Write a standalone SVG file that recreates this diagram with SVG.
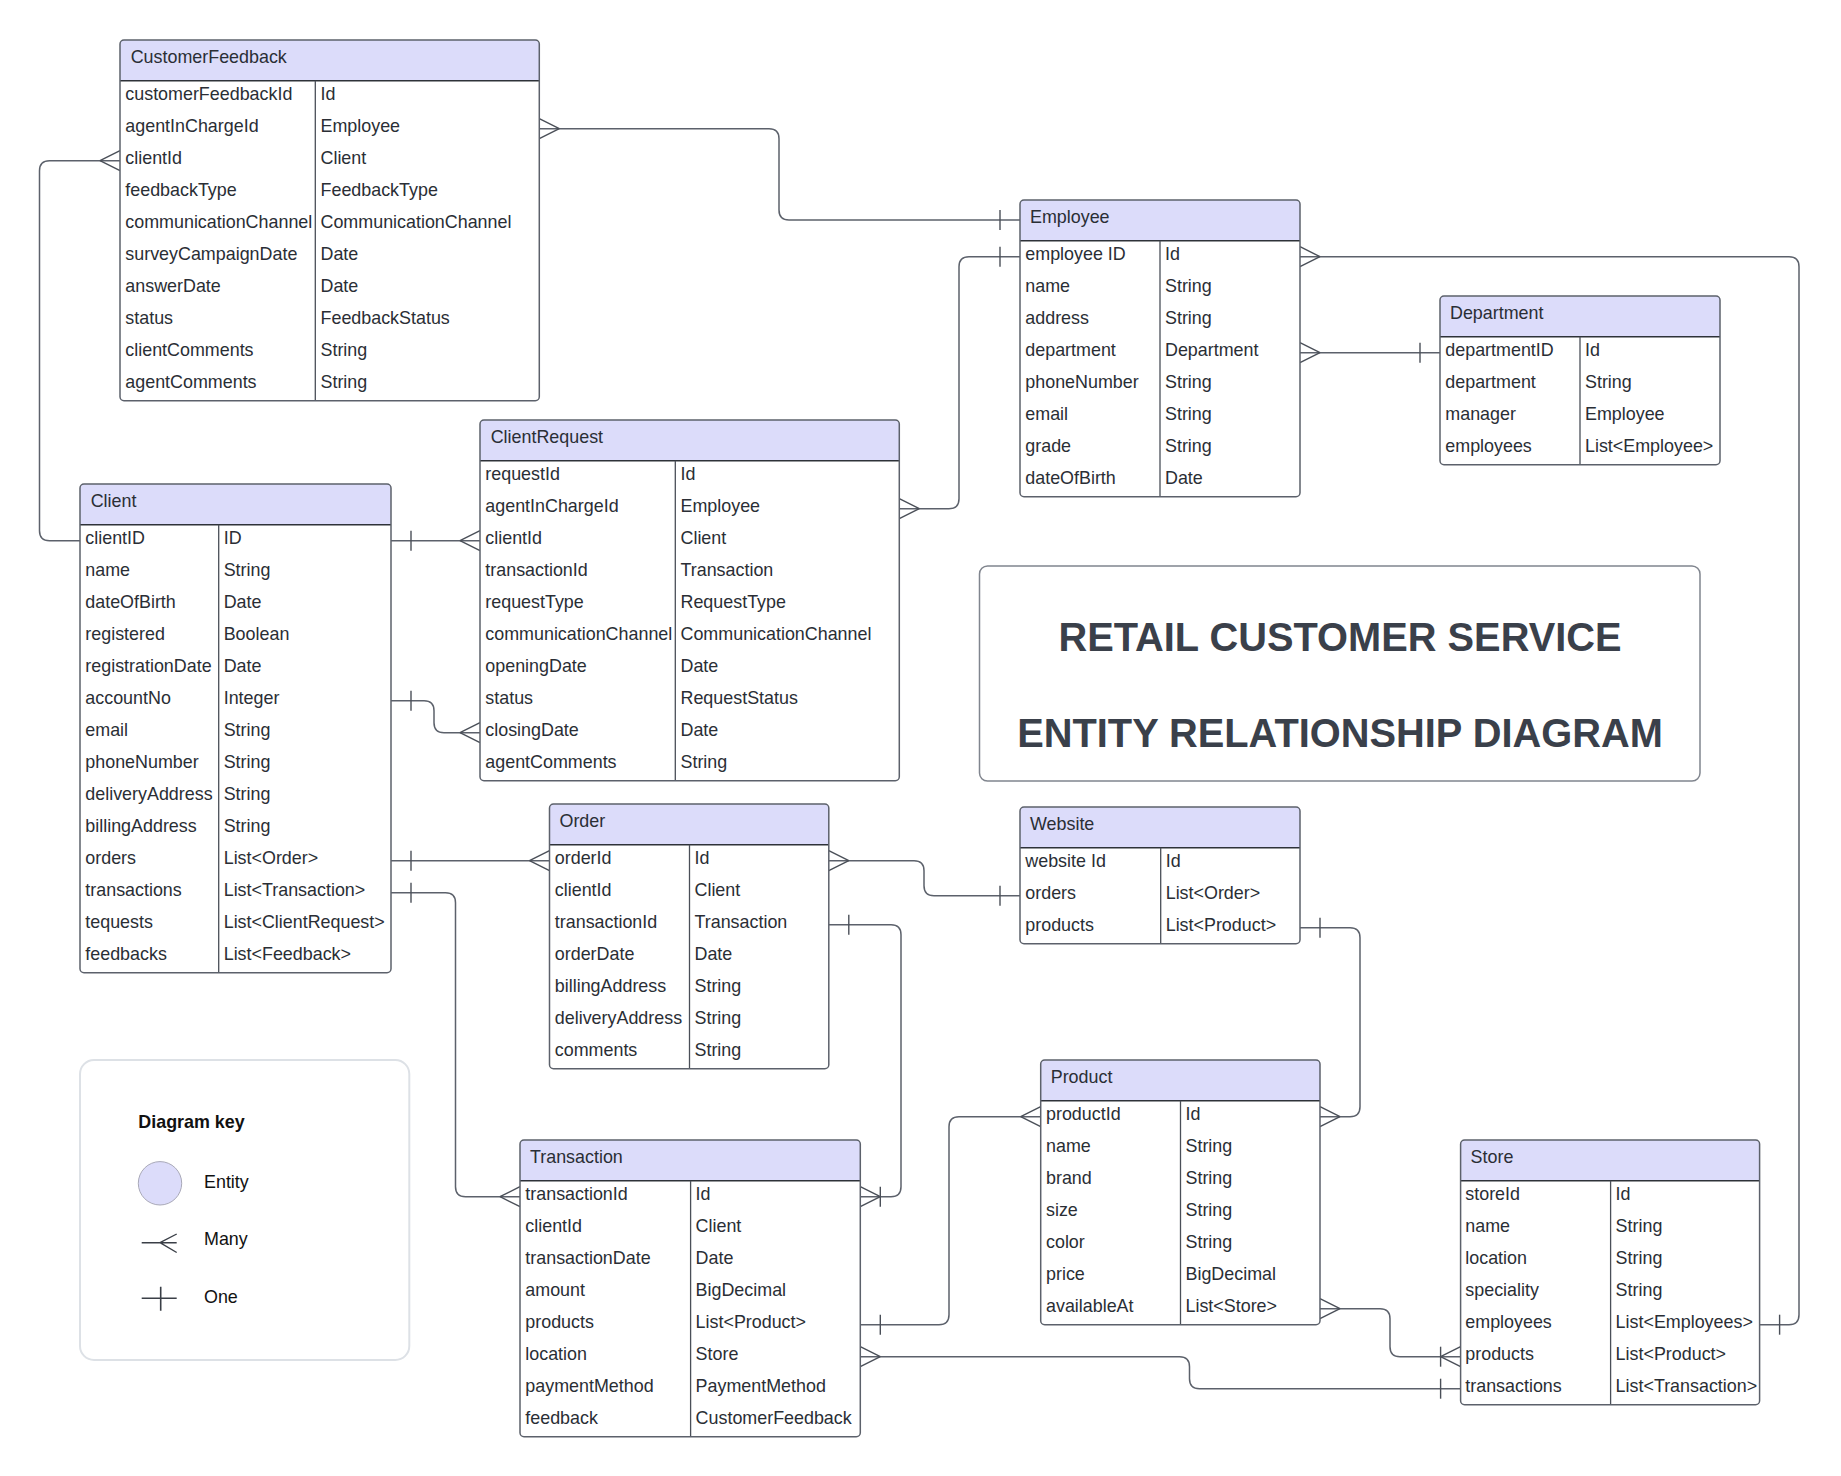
<svg xmlns="http://www.w3.org/2000/svg" xmlns:xlink="http://www.w3.org/1999/xlink" width="1841" height="1476" viewBox="0 0 1841 1476">
<style>
.body{fill:#ffffff;stroke:none}
.hdr{fill:#dcdcfa;stroke:none}
.frame{fill:none;stroke:#5c616b;stroke-width:1.5}
.hline{stroke:#2e3239;stroke-width:1.6}
.div{stroke:#4a4f58;stroke-width:1.3}
.h,.t{font-family:"Liberation Sans",Arial,sans-serif;font-size:17.9px;fill:#2a2e35}
.conn path,.conn line{fill:none;stroke:#5c616b;stroke-width:1.5}
.mk{fill:none;stroke:#4a4f58;stroke-width:1.4}
.title{font-family:"Liberation Sans",Arial,sans-serif;font-weight:bold;font-size:39.8px;fill:#3a404a;text-anchor:middle}
.lg{font-family:"Liberation Sans",Arial,sans-serif;font-size:17.9px;fill:#111111}
</style>
<defs>
<path id="crow" class="mk" d="M-20,0 L0,-10 M-20,0 L0,10"/>
<path id="tick" class="mk" d="M-20,-10 V10"/>
</defs>
<rect width="1841" height="1476" fill="#ffffff"/>

<g id="title">
<rect x="979.5" y="566" width="720.5" height="215" rx="8" fill="#ffffff" stroke="#80858e" stroke-width="1.5"/>
<text class="title" x="1340" y="650.5">RETAIL CUSTOMER SERVICE</text>
<text class="title" x="1340" y="746.7">ENTITY RELATIONSHIP DIAGRAM</text>
</g>

<g id="legend">
<rect x="80" y="1060" width="329.3" height="300" rx="14" fill="#ffffff" stroke="#dde1e6" stroke-width="2"/>
<text class="lg" x="138.3" y="1127.5" font-weight="bold">Diagram key</text>
<circle cx="160" cy="1183.3" r="21.7" fill="#dcdcfa" stroke="#a9a9b8" stroke-width="1"/>
<text class="lg" x="204" y="1187.5">Entity</text>
<path d="M141.7,1242.7 H176.7 M160,1242.7 L176.7,1234 M160,1242.7 L176.7,1252.5" fill="none" stroke="#3a3f47" stroke-width="1.4"/>
<text class="lg" x="204" y="1245">Many</text>
<path d="M141.7,1298.3 H176.7 M160.7,1286.7 V1310.7" fill="none" stroke="#3a3f47" stroke-width="1.6"/>
<text class="lg" x="204" y="1303">One</text>
</g>

<g id="connectors" class="conn">
<path d="M539.3,128.7 H769 Q779,128.7 779,138.7 V210 Q779,220 789,220 H1020"/>
<use xlink:href="#crow" transform="translate(539.3,128.7) scale(-1,1)"/>
<use xlink:href="#tick" transform="translate(1020,220)"/>
<path d="M120,160.7 H49.5 Q39.5,160.7 39.5,170.7 V530.7 Q39.5,540.7 49.5,540.7 H80"/>
<use xlink:href="#crow" transform="translate(120,160.7)"/>
<use xlink:href="#tick" transform="translate(80,540.7) scale(-1,1)"/>
<path d="M391,540.7 H480"/>
<use xlink:href="#tick" transform="translate(391,540.7) scale(-1,1)"/>
<use xlink:href="#crow" transform="translate(480,540.7)"/>
<path d="M391,700.7 H424 Q434,700.7 434,710.7 V722.7 Q434,732.7 444,732.7 H480"/>
<use xlink:href="#tick" transform="translate(391,700.7) scale(-1,1)"/>
<use xlink:href="#crow" transform="translate(480,732.7)"/>
<path d="M391,860.7 H549.5"/>
<use xlink:href="#tick" transform="translate(391,860.7) scale(-1,1)"/>
<use xlink:href="#crow" transform="translate(549.5,860.7)"/>
<path d="M391,892.7 H445.5 Q455.5,892.7 455.5,902.7 V1186.7 Q455.5,1196.7 465.5,1196.7 H520"/>
<use xlink:href="#tick" transform="translate(391,892.7) scale(-1,1)"/>
<use xlink:href="#crow" transform="translate(520,1196.7)"/>
<path d="M899.3,508.7 H949 Q959,508.7 959,498.7 V266.7 Q959,256.7 969,256.7 H1020"/>
<use xlink:href="#crow" transform="translate(899.3,508.7) scale(-1,1)"/>
<use xlink:href="#tick" transform="translate(1020,256.7)"/>
<path d="M1300,256.7 H1789 Q1799,256.7 1799,266.7 V1314.7 Q1799,1324.7 1789,1324.7 H1759.6"/>
<use xlink:href="#crow" transform="translate(1300,256.7) scale(-1,1)"/>
<use xlink:href="#tick" transform="translate(1759.6,1324.7) scale(-1,1)"/>
<path d="M1300,352.7 H1440"/>
<use xlink:href="#crow" transform="translate(1300,352.7) scale(-1,1)"/>
<use xlink:href="#tick" transform="translate(1440,352.7)"/>
<path d="M828.8,860.7 H914 Q924,860.7 924,870.7 V885.7 Q924,895.7 934,895.7 H1020"/>
<use xlink:href="#crow" transform="translate(828.8,860.7) scale(-1,1)"/>
<use xlink:href="#tick" transform="translate(1020,895.7)"/>
<path d="M828.8,924.7 H891 Q901,924.7 901,934.7 V1186.7 Q901,1196.7 891,1196.7 H860.3"/>
<use xlink:href="#tick" transform="translate(828.8,924.7) scale(-1,1)"/>
<use xlink:href="#crow" transform="translate(860.3,1196.7) scale(-1,1)"/>
<use xlink:href="#tick" transform="translate(860.3,1196.7) scale(-1,1)"/>
<path d="M1300,927.7 H1350 Q1360,927.7 1360,937.7 V1106.7 Q1360,1116.7 1350,1116.7 H1320"/>
<use xlink:href="#tick" transform="translate(1300,927.7) scale(-1,1)"/>
<use xlink:href="#crow" transform="translate(1320,1116.7) scale(-1,1)"/>
<path d="M860.3,1324.7 H939 Q949,1324.7 949,1314.7 V1126.7 Q949,1116.7 959,1116.7 H1040.7"/>
<use xlink:href="#tick" transform="translate(860.3,1324.7) scale(-1,1)"/>
<use xlink:href="#crow" transform="translate(1040.7,1116.7)"/>
<path d="M860.3,1356.7 H1179.5 Q1189.5,1356.7 1189.5,1366.7 V1378.7 Q1189.5,1388.7 1199.5,1388.7 H1460.6"/>
<use xlink:href="#crow" transform="translate(860.3,1356.7) scale(-1,1)"/>
<use xlink:href="#tick" transform="translate(1460.6,1388.7)"/>
<path d="M1320,1308.7 H1380 Q1390,1308.7 1390,1318.7 V1346.7 Q1390,1356.7 1400,1356.7 H1460.6"/>
<use xlink:href="#crow" transform="translate(1320,1308.7) scale(-1,1)"/>
<use xlink:href="#crow" transform="translate(1460.6,1356.7)"/>
<use xlink:href="#tick" transform="translate(1460.6,1356.7)"/>
</g>

<g id="customerFeedback" transform="translate(120,40)">
<rect class="body" width="419.3" height="360.7" rx="4"/>
<path class="hdr" d="M0,40.7 V4 Q0,0 4,0 H415.3 Q419.3,0 419.3,4 V40.7 Z"/>
<line class="hline" x1="0" y1="40.7" x2="419.3" y2="40.7"/>
<line class="div" x1="195.3" y1="40.7" x2="195.3" y2="360.7"/>
<rect class="frame" width="419.3" height="360.7" rx="4"/>
<text class="h" x="10.7" y="23.3">CustomerFeedback</text>
<text class="t" x="5.3" y="60">customerFeedbackId</text><text class="t" x="200.5" y="60">Id</text>
<text class="t" x="5.3" y="92">agentInChargeId</text><text class="t" x="200.5" y="92">Employee</text>
<text class="t" x="5.3" y="124">clientId</text><text class="t" x="200.5" y="124">Client</text>
<text class="t" x="5.3" y="156">feedbackType</text><text class="t" x="200.5" y="156">FeedbackType</text>
<text class="t" x="5.3" y="188">communicationChannel</text><text class="t" x="200.5" y="188">CommunicationChannel</text>
<text class="t" x="5.3" y="220">surveyCampaignDate</text><text class="t" x="200.5" y="220">Date</text>
<text class="t" x="5.3" y="252">answerDate</text><text class="t" x="200.5" y="252">Date</text>
<text class="t" x="5.3" y="284">status</text><text class="t" x="200.5" y="284">FeedbackStatus</text>
<text class="t" x="5.3" y="316">clientComments</text><text class="t" x="200.5" y="316">String</text>
<text class="t" x="5.3" y="348">agentComments</text><text class="t" x="200.5" y="348">String</text>
</g>

<g id="employee" transform="translate(1020,200)">
<rect class="body" width="280" height="296.7" rx="4"/>
<path class="hdr" d="M0,40.7 V4 Q0,0 4,0 H276 Q280,0 280,4 V40.7 Z"/>
<line class="hline" x1="0" y1="40.7" x2="280" y2="40.7"/>
<line class="div" x1="140" y1="40.7" x2="140" y2="296.7"/>
<rect class="frame" width="280" height="296.7" rx="4"/>
<text class="h" x="10" y="23.3">Employee</text>
<text class="t" x="5.3" y="60">employee ID</text><text class="t" x="145" y="60">Id</text>
<text class="t" x="5.3" y="92">name</text><text class="t" x="145" y="92">String</text>
<text class="t" x="5.3" y="124">address</text><text class="t" x="145" y="124">String</text>
<text class="t" x="5.3" y="156">department</text><text class="t" x="145" y="156">Department</text>
<text class="t" x="5.3" y="188">phoneNumber</text><text class="t" x="145" y="188">String</text>
<text class="t" x="5.3" y="220">email</text><text class="t" x="145" y="220">String</text>
<text class="t" x="5.3" y="252">grade</text><text class="t" x="145" y="252">String</text>
<text class="t" x="5.3" y="284">dateOfBirth</text><text class="t" x="145" y="284">Date</text>
</g>

<g id="department" transform="translate(1440,296)">
<rect class="body" width="280" height="168.7" rx="4"/>
<path class="hdr" d="M0,40.7 V4 Q0,0 4,0 H276 Q280,0 280,4 V40.7 Z"/>
<line class="hline" x1="0" y1="40.7" x2="280" y2="40.7"/>
<line class="div" x1="140" y1="40.7" x2="140" y2="168.7"/>
<rect class="frame" width="280" height="168.7" rx="4"/>
<text class="h" x="10" y="23.3">Department</text>
<text class="t" x="5.3" y="60">departmentID</text><text class="t" x="145" y="60">Id</text>
<text class="t" x="5.3" y="92">department</text><text class="t" x="145" y="92">String</text>
<text class="t" x="5.3" y="124">manager</text><text class="t" x="145" y="124">Employee</text>
<text class="t" x="5.3" y="156">employees</text><text class="t" x="145" y="156">List&lt;Employee&gt;</text>
</g>

<g id="clientRequest" transform="translate(480,420)">
<rect class="body" width="419.3" height="360.7" rx="4"/>
<path class="hdr" d="M0,40.7 V4 Q0,0 4,0 H415.3 Q419.3,0 419.3,4 V40.7 Z"/>
<line class="hline" x1="0" y1="40.7" x2="419.3" y2="40.7"/>
<line class="div" x1="195.3" y1="40.7" x2="195.3" y2="360.7"/>
<rect class="frame" width="419.3" height="360.7" rx="4"/>
<text class="h" x="10.7" y="23.3">ClientRequest</text>
<text class="t" x="5.3" y="60">requestId</text><text class="t" x="200.5" y="60">Id</text>
<text class="t" x="5.3" y="92">agentInChargeId</text><text class="t" x="200.5" y="92">Employee</text>
<text class="t" x="5.3" y="124">clientId</text><text class="t" x="200.5" y="124">Client</text>
<text class="t" x="5.3" y="156">transactionId</text><text class="t" x="200.5" y="156">Transaction</text>
<text class="t" x="5.3" y="188">requestType</text><text class="t" x="200.5" y="188">RequestType</text>
<text class="t" x="5.3" y="220">communicationChannel</text><text class="t" x="200.5" y="220">CommunicationChannel</text>
<text class="t" x="5.3" y="252">openingDate</text><text class="t" x="200.5" y="252">Date</text>
<text class="t" x="5.3" y="284">status</text><text class="t" x="200.5" y="284">RequestStatus</text>
<text class="t" x="5.3" y="316">closingDate</text><text class="t" x="200.5" y="316">Date</text>
<text class="t" x="5.3" y="348">agentComments</text><text class="t" x="200.5" y="348">String</text>
</g>

<g id="client" transform="translate(80,484)">
<rect class="body" width="311" height="488.7" rx="4"/>
<path class="hdr" d="M0,40.7 V4 Q0,0 4,0 H307 Q311,0 311,4 V40.7 Z"/>
<line class="hline" x1="0" y1="40.7" x2="311" y2="40.7"/>
<line class="div" x1="138.7" y1="40.7" x2="138.7" y2="488.7"/>
<rect class="frame" width="311" height="488.7" rx="4"/>
<text class="h" x="10.7" y="23.3">Client</text>
<text class="t" x="5.3" y="60">clientID</text><text class="t" x="143.7" y="60">ID</text>
<text class="t" x="5.3" y="92">name</text><text class="t" x="143.7" y="92">String</text>
<text class="t" x="5.3" y="124">dateOfBirth</text><text class="t" x="143.7" y="124">Date</text>
<text class="t" x="5.3" y="156">registered</text><text class="t" x="143.7" y="156">Boolean</text>
<text class="t" x="5.3" y="188">registrationDate</text><text class="t" x="143.7" y="188">Date</text>
<text class="t" x="5.3" y="220">accountNo</text><text class="t" x="143.7" y="220">Integer</text>
<text class="t" x="5.3" y="252">email</text><text class="t" x="143.7" y="252">String</text>
<text class="t" x="5.3" y="284">phoneNumber</text><text class="t" x="143.7" y="284">String</text>
<text class="t" x="5.3" y="316">deliveryAddress</text><text class="t" x="143.7" y="316">String</text>
<text class="t" x="5.3" y="348">billingAddress</text><text class="t" x="143.7" y="348">String</text>
<text class="t" x="5.3" y="380">orders</text><text class="t" x="143.7" y="380">List&lt;Order&gt;</text>
<text class="t" x="5.3" y="412">transactions</text><text class="t" x="143.7" y="412">List&lt;Transaction&gt;</text>
<text class="t" x="5.3" y="444">tequests</text><text class="t" x="143.7" y="444" textLength="161" lengthAdjust="spacingAndGlyphs">List&lt;ClientRequest&gt;</text>
<text class="t" x="5.3" y="476">feedbacks</text><text class="t" x="143.7" y="476">List&lt;Feedback&gt;</text>
</g>

<g id="order" transform="translate(549.5,804)">
<rect class="body" width="279.3" height="264.7" rx="4"/>
<path class="hdr" d="M0,40.7 V4 Q0,0 4,0 H275.3 Q279.3,0 279.3,4 V40.7 Z"/>
<line class="hline" x1="0" y1="40.7" x2="279.3" y2="40.7"/>
<line class="div" x1="140" y1="40.7" x2="140" y2="264.7"/>
<rect class="frame" width="279.3" height="264.7" rx="4"/>
<text class="h" x="10" y="23.3">Order</text>
<text class="t" x="5.3" y="60">orderId</text><text class="t" x="145" y="60">Id</text>
<text class="t" x="5.3" y="92">clientId</text><text class="t" x="145" y="92">Client</text>
<text class="t" x="5.3" y="124">transactionId</text><text class="t" x="145" y="124">Transaction</text>
<text class="t" x="5.3" y="156">orderDate</text><text class="t" x="145" y="156">Date</text>
<text class="t" x="5.3" y="188">billingAddress</text><text class="t" x="145" y="188">String</text>
<text class="t" x="5.3" y="220">deliveryAddress</text><text class="t" x="145" y="220">String</text>
<text class="t" x="5.3" y="252">comments</text><text class="t" x="145" y="252">String</text>
</g>

<g id="website" transform="translate(1020,807)">
<rect class="body" width="280" height="136.7" rx="4"/>
<path class="hdr" d="M0,40.7 V4 Q0,0 4,0 H276 Q280,0 280,4 V40.7 Z"/>
<line class="hline" x1="0" y1="40.7" x2="280" y2="40.7"/>
<line class="div" x1="140.7" y1="40.7" x2="140.7" y2="136.7"/>
<rect class="frame" width="280" height="136.7" rx="4"/>
<text class="h" x="10" y="23.3">Website</text>
<text class="t" x="5.3" y="60">website Id</text><text class="t" x="145.7" y="60">Id</text>
<text class="t" x="5.3" y="92">orders</text><text class="t" x="145.7" y="92">List&lt;Order&gt;</text>
<text class="t" x="5.3" y="124">products</text><text class="t" x="145.7" y="124">List&lt;Product&gt;</text>
</g>

<g id="product" transform="translate(1040.7,1060)">
<rect class="body" width="279.3" height="264.7" rx="4"/>
<path class="hdr" d="M0,40.7 V4 Q0,0 4,0 H275.3 Q279.3,0 279.3,4 V40.7 Z"/>
<line class="hline" x1="0" y1="40.7" x2="279.3" y2="40.7"/>
<line class="div" x1="139.8" y1="40.7" x2="139.8" y2="264.7"/>
<rect class="frame" width="279.3" height="264.7" rx="4"/>
<text class="h" x="10" y="23.3">Product</text>
<text class="t" x="5.3" y="60">productId</text><text class="t" x="144.8" y="60">Id</text>
<text class="t" x="5.3" y="92">name</text><text class="t" x="144.8" y="92">String</text>
<text class="t" x="5.3" y="124">brand</text><text class="t" x="144.8" y="124">String</text>
<text class="t" x="5.3" y="156">size</text><text class="t" x="144.8" y="156">String</text>
<text class="t" x="5.3" y="188">color</text><text class="t" x="144.8" y="188">String</text>
<text class="t" x="5.3" y="220">price</text><text class="t" x="144.8" y="220">BigDecimal</text>
<text class="t" x="5.3" y="252">availableAt</text><text class="t" x="144.8" y="252">List&lt;Store&gt;</text>
</g>

<g id="transaction" transform="translate(520,1140)">
<rect class="body" width="340.3" height="296.7" rx="4"/>
<path class="hdr" d="M0,40.7 V4 Q0,0 4,0 H336.3 Q340.3,0 340.3,4 V40.7 Z"/>
<line class="hline" x1="0" y1="40.7" x2="340.3" y2="40.7"/>
<line class="div" x1="170.6" y1="40.7" x2="170.6" y2="296.7"/>
<rect class="frame" width="340.3" height="296.7" rx="4"/>
<text class="h" x="10" y="23.3">Transaction</text>
<text class="t" x="5.3" y="60">transactionId</text><text class="t" x="175.6" y="60">Id</text>
<text class="t" x="5.3" y="92">clientId</text><text class="t" x="175.6" y="92">Client</text>
<text class="t" x="5.3" y="124">transactionDate</text><text class="t" x="175.6" y="124">Date</text>
<text class="t" x="5.3" y="156">amount</text><text class="t" x="175.6" y="156">BigDecimal</text>
<text class="t" x="5.3" y="188">products</text><text class="t" x="175.6" y="188">List&lt;Product&gt;</text>
<text class="t" x="5.3" y="220">location</text><text class="t" x="175.6" y="220">Store</text>
<text class="t" x="5.3" y="252">paymentMethod</text><text class="t" x="175.6" y="252">PaymentMethod</text>
<text class="t" x="5.3" y="284">feedback</text><text class="t" x="175.6" y="284">CustomerFeedback</text>
</g>

<g id="store" transform="translate(1460.6,1140)">
<rect class="body" width="299" height="264.7" rx="4"/>
<path class="hdr" d="M0,40.7 V4 Q0,0 4,0 H295 Q299,0 299,4 V40.7 Z"/>
<line class="hline" x1="0" y1="40.7" x2="299" y2="40.7"/>
<line class="div" x1="150" y1="40.7" x2="150" y2="264.7"/>
<rect class="frame" width="299" height="264.7" rx="4"/>
<text class="h" x="10" y="23.3">Store</text>
<text class="t" x="4.7" y="60">storeId</text><text class="t" x="155" y="60">Id</text>
<text class="t" x="4.7" y="92">name</text><text class="t" x="155" y="92">String</text>
<text class="t" x="4.7" y="124">location</text><text class="t" x="155" y="124">String</text>
<text class="t" x="4.7" y="156">speciality</text><text class="t" x="155" y="156">String</text>
<text class="t" x="4.7" y="188">employees</text><text class="t" x="155" y="188">List&lt;Employees&gt;</text>
<text class="t" x="4.7" y="220">products</text><text class="t" x="155" y="220">List&lt;Product&gt;</text>
<text class="t" x="4.7" y="252">transactions</text><text class="t" x="155" y="252">List&lt;Transaction&gt;</text>
</g>
</svg>
